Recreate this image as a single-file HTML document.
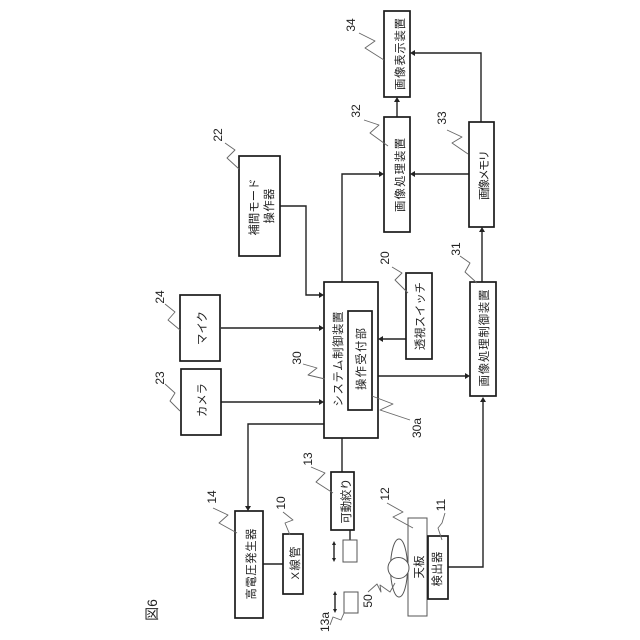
<!DOCTYPE html>
<html lang="ja"><head><meta charset="utf-8"><title>図6</title>
<style>
html,body{margin:0;padding:0;background:#fff}
svg{display:block}
text{font-family:"Liberation Sans","Noto Sans CJK JP",sans-serif;fill:#222;text-anchor:middle;dominant-baseline:central}
.j{font-size:11.3px}
.n{font-size:12px;fill:#333}
.b{fill:#fff;stroke:#1a1a1a;stroke-width:1.7}
.t{fill:#fff;stroke:#555;stroke-width:1}
.l{fill:none;stroke:#222;stroke-width:1.4}
.q{fill:none;stroke:#666;stroke-width:.9;stroke-linejoin:round}
.a{fill:#222}
</style></head><body>
<svg width="640" height="640" viewBox="0 0 640 640" xmlns="http://www.w3.org/2000/svg">
<!-- connectors -->
<path class="l" d="M342 282V174H380M397 117V101M481 122V53H414M469 174H414M482 282V231M280 206H306V295H320M221 328H320M221 402H320M406 339H382M378 376H466M324 424H248V507M342 438V472M263 564H283M350 530V540M448 567H483V401"/>
<g class="a">
<path d="M384 174l-5 -3v6zM397 97l-3 5h6zM410 53l5 -3v6zM410 174l5 -3v6zM482 227l-3 5h6zM324 295l-5 -3v6zM324 328l-5 -3v6zM324 402l-5 -3v6zM378 339l5 -3v6zM470 376l-5 -3v6zM248 511l-3 -5h6zM483 397l-3 5h6z"/>
</g>
<!-- boxes -->
<rect class="b" x="384" y="11" width="26" height="86"/>
<rect class="b" x="384" y="117" width="26" height="115"/>
<rect class="b" x="469" y="122" width="25" height="105"/>
<rect class="b" x="239" y="156" width="41" height="100"/>
<rect class="b" x="470" y="282" width="26" height="114"/>
<rect class="b" x="406" y="273" width="26" height="86"/>
<rect class="b" x="180" y="295" width="40" height="66"/>
<rect class="b" x="181" y="369" width="40" height="66"/>
<rect class="b" x="324" y="282" width="54" height="156"/>
<rect class="b" x="348" y="311" width="24" height="99"/>
<rect class="b" x="235" y="511" width="28" height="107"/>
<rect class="b" x="283" y="534" width="20" height="60"/>
<rect class="b" x="331" y="472" width="23" height="58"/>
<rect class="t" x="343" y="540" width="14" height="22"/>
<rect class="t" x="344" y="592" width="14" height="21"/>
<rect class="t" x="408" y="518" width="19" height="98"/>
<rect class="b" x="428" y="536" width="20" height="63"/>
<ellipse cx="399" cy="568" rx="8.5" ry="29" fill="none" stroke="#555" stroke-width="1"/>
<circle cx="398.500" cy="568" r="10.500" fill="#fff" stroke="#555" stroke-width="1"/>
<!-- double arrows -->
<path class="l" d="M334 544V559M335 594V610" stroke-width="1"/>
<path class="a" d="M334 541l-2 4h4zM334 562l-2 -4h4zM335 591l-2 4h4zM335 613l-2 -4h4z"/>
<!-- leaders -->
<g class="q">
<path d="M359 33L375 41L365 48L384 60"/>
<path d="M364 120L379 125L370 133L388 146"/>
<path d="M447 130L462 137L452 143L468 154"/>
<path d="M225 143L235 150L227 158L239 169"/>
<path d="M392 267L402 273L395 280L408 293"/>
<path d="M460 256L470 263L465 272L477 283"/>
<path d="M165 304L175 312L168 320L180 330"/>
<path d="M165 384L175 393L170 401L180 411"/>
<path d="M303 364L317 368L308 375L325 379"/>
<path d="M372 396L393 404L380 410L410 420"/>
<path d="M311 467L325 473L316 482L333 493"/>
<path d="M213 508L228 515L219 523L237 533"/>
<path d="M283 512L293 520L285 523L290 535"/>
<path d="M387 503L403 512L393 517L413 528"/>
<path d="M445 513L442 523L438 528L442 540"/>
<path d="M395 583L390 592L380 585L381 592L377 584L368 592"/>
<path d="M344 613L341 620L333 617L330 625"/>
</g>
<!-- box labels -->
<g class="j">
<text transform="translate(401 54) rotate(-90)" textLength="72">画像表示装置</text>
<text transform="translate(401 175) rotate(-90)" textLength="74">画像処理装置</text>
<text transform="translate(485 175) rotate(-90)" textLength="50">画像メモリ</text>
<text transform="translate(485 338) rotate(-90)" textLength="97">画像処理制御装置</text>
<text transform="translate(255 207) rotate(-90)" textLength="57">補間モード</text>
<text transform="translate(270 206) rotate(-90)" textLength="35">操作器</text>
<text transform="translate(421 316) rotate(-90)" textLength="68">透視スイッチ</text>
<text transform="translate(203 328) rotate(-90)" textLength="34">マイク</text>
<text transform="translate(203 400) rotate(-90)" textLength="34">カメラ</text>
<text transform="translate(339 359) rotate(-90)" textLength="95">システム制御装置</text>
<text transform="translate(362 359) rotate(-90)" textLength="62">操作受付部</text>
<text transform="translate(252 564) rotate(-90)" textLength="71">高電圧発生器</text>
<text transform="translate(296 563) rotate(-90)" textLength="33">X線管</text>
<text transform="translate(347 501) rotate(-90)" textLength="45">可動絞り</text>
<text transform="translate(420 567) rotate(-90)" textLength="23">天板</text>
<text transform="translate(438 569) rotate(-90)" textLength="35">検出器</text>
</g>
<!-- reference numerals -->
<g class="n">
<text transform="translate(351 25) rotate(-90)">34</text>
<text transform="translate(356 111) rotate(-90)">32</text>
<text transform="translate(442 118) rotate(-90)">33</text>
<text transform="translate(218 135) rotate(-90)">22</text>
<text transform="translate(385 258) rotate(-90)">20</text>
<text transform="translate(456 249) rotate(-90)">31</text>
<text transform="translate(160 297) rotate(-90)">24</text>
<text transform="translate(160 378) rotate(-90)">23</text>
<text transform="translate(297 358) rotate(-90)">30</text>
<text transform="translate(417 428) rotate(-90)">30a</text>
<text transform="translate(308 459) rotate(-90)">13</text>
<text transform="translate(212 497) rotate(-90)">14</text>
<text transform="translate(281 503) rotate(-90)">10</text>
<text transform="translate(385 494) rotate(-90)">12</text>
<text transform="translate(441 505) rotate(-90)">11</text>
<text transform="translate(368 601) rotate(-90)">50</text>
<text transform="translate(325 622) rotate(-90)">13a</text>
<text transform="translate(152 610) rotate(-90)" style="font-size:14px">図6</text>
</g>
</svg>
</body></html>
